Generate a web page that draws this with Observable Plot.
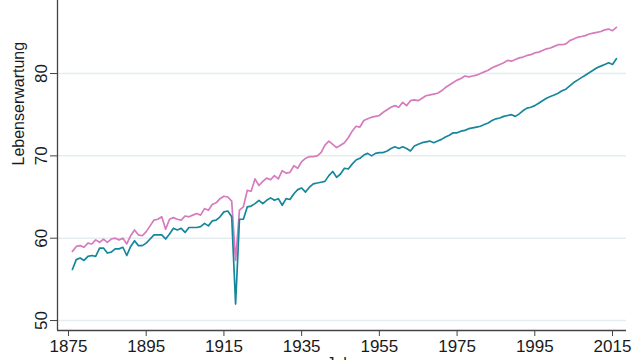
<!DOCTYPE html>
<html><head><meta charset="utf-8">
<script src="https://cdn.jsdelivr.net/npm/d3@7"></script>
<script src="https://cdn.jsdelivr.net/npm/@observablehq/plot@0.6"></script>
<style>html,body{margin:0;padding:0;background:#fff;overflow:hidden}</style>
</head><body><div id="chart"></div>
<script>
const firstYear = 1876;
const lastYear = 2016;
const seriesNames = ["Frauen", "Männer"];
const seriesColors = ["#d67bbd", "#15879c"];
const frauen = [
58.4,59.0,59.1,58.9,59.4,59.3,59.8,59.5,59.9,59.5,
59.9,60.0,59.8,60.0,59.3,60.3,61.0,60.4,60.3,60.8,
61.5,62.2,62.3,62.6,61.1,62.3,62.5,62.3,62.2,62.7,
62.6,62.8,63.0,62.8,63.6,63.4,64.1,64.3,64.8,65.1,
65.0,64.5,57.3,63.4,63.8,65.8,65.7,67.2,66.4,66.9,
67.3,67.1,67.6,67.2,68.2,67.9,68.0,68.8,68.5,69.3,
69.7,69.9,69.9,70.0,70.4,71.3,71.8,71.4,71.0,71.3,
71.6,72.2,73.0,73.6,73.5,74.3,74.5,74.7,74.8,74.9,
75.3,75.6,75.9,76.1,75.9,76.5,76.1,76.7,76.8,76.7,
77.0,77.3,77.4,77.5,77.6,77.9,78.3,78.6,78.9,79.2,
79.4,79.7,79.6,79.7,79.8,80.0,80.2,80.4,80.7,80.9,
81.1,81.3,81.6,81.5,81.7,81.9,82.0,82.2,82.3,82.5,
82.6,82.8,83.0,83.1,83.3,83.5,83.5,83.6,84.0,84.2,
84.4,84.5,84.6,84.8,84.9,85.0,85.1,85.3,85.4,85.2,
85.6];
const maenner = [
56.2,57.4,57.6,57.3,57.8,57.9,57.8,58.8,58.8,58.2,
58.3,58.7,58.7,58.9,57.9,59.0,59.7,59.1,59.1,59.4,
59.9,60.4,60.4,60.4,59.9,60.5,61.2,61.0,61.2,60.7,
61.3,61.3,61.3,61.4,61.8,61.5,62.1,62.2,62.6,63.2,
63.3,62.6,52.0,62.3,62.3,63.8,63.9,64.2,64.6,64.2,
64.6,64.9,64.6,64.8,64.0,64.8,64.7,65.4,65.9,66.1,
65.6,66.2,66.6,66.7,66.8,66.9,67.6,68.1,67.4,67.8,
68.5,68.4,69.0,69.5,69.7,70.1,70.3,70.0,70.3,70.4,
70.4,70.6,70.9,71.1,70.9,71.1,70.9,70.6,71.2,71.4,
71.6,71.7,71.8,71.6,71.8,72.0,72.3,72.5,72.8,72.8,
73.0,73.1,73.3,73.4,73.5,73.6,73.8,74.0,74.3,74.5,
74.6,74.8,74.9,75.0,74.8,75.1,75.5,75.8,75.9,76.1,
76.4,76.7,77.0,77.2,77.4,77.6,77.9,78.1,78.5,78.9,
79.2,79.5,79.8,80.1,80.4,80.7,80.9,81.1,81.3,81.1,
81.8];
const xTicks = [1875, 1895, 1915, 1935, 1955, 1975, 1995, 2015];
const yTicks = [50, 60, 70, 80];
const yLabel = "Lebenserwartung";
const xLabel = "Jahr";
const xDomain = [1872.17, 2018.6];
const yDomain = [48.79, 88.87];

const years = d3.range(firstYear, lastYear + 1);
const data = [
  ...years.map((year, i) => ({year, value: frauen[i], series: seriesNames[0]})),
  ...years.map((year, i) => ({year, value: maenner[i], series: seriesNames[1]}))
];

const chart = Plot.plot({
  width: 640,
  height: 360,
  marginLeft: 57,
  marginRight: 14,
  marginTop: 0,
  marginBottom: 30,
  style: {fontFamily: "'Liberation Sans', Arial, sans-serif", fontSize: "17px", color: "#1a1a1a", background: "#fff"},
  x: {domain: xDomain},
  y: {domain: yDomain},
  color: {domain: seriesNames, range: seriesColors},
  marks: [
    Plot.gridY(yTicks, {stroke: "#e4edef", strokeOpacity: 1, strokeWidth: 1.5}),
    Plot.axisY(yTicks, {tickSize: 7, tickRotate: -90, tickPadding: 4, fontSize: 17, label: null, stroke: "#444"}),
    Plot.axisX(xTicks, {tickSize: 6, tickPadding: 3, tickFormat: "d", fontSize: 17, label: null, stroke: "#444"}),
    Plot.ruleX([xDomain[0]], {stroke: "#444", strokeWidth: 1.3}),
    Plot.ruleY([yDomain[0]], {stroke: "#444", strokeWidth: 1.3}),
    Plot.line(data, {x: "year", y: "value", z: "series", stroke: "series", strokeWidth: 1.7}),
    Plot.text([yLabel], {frameAnchor: "left", rotate: -90, dx: -39, fontSize: 16}),
    Plot.text([xLabel], {frameAnchor: "bottom", dy: 27, lineAnchor: "top", fontSize: 16})
  ]
});
document.getElementById("chart").appendChild(chart);
</script>
</body></html>
